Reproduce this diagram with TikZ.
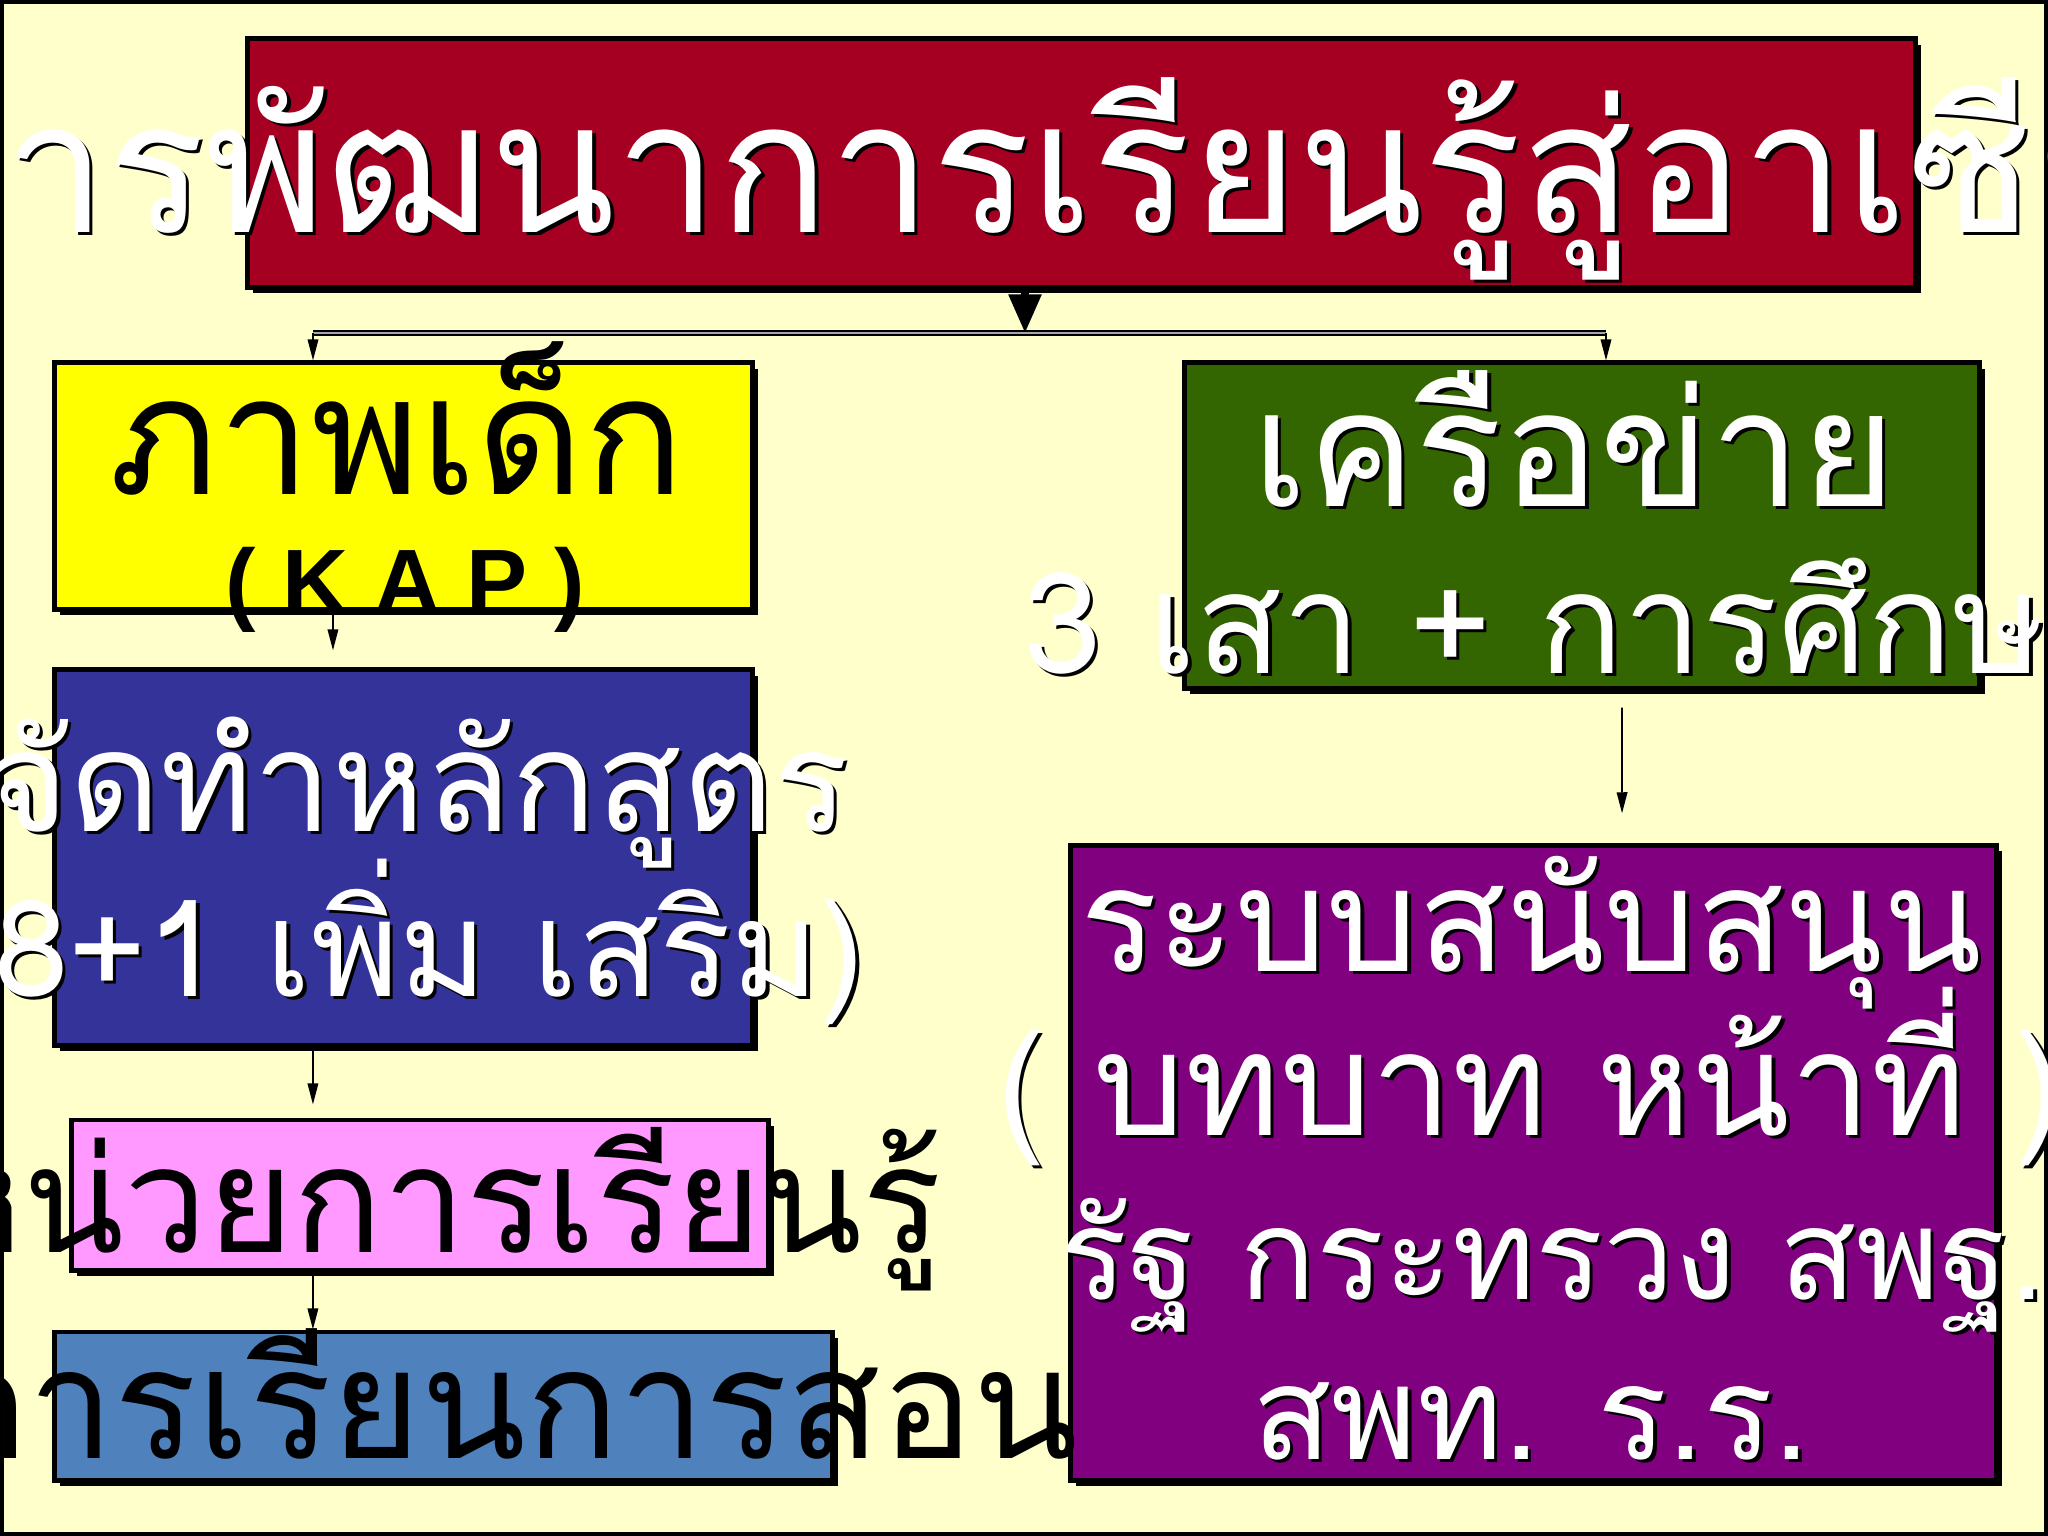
\documentclass[tikz,border=0pt]{standalone}
\usepackage{fontspec}
\newfontfamily\thai[Script=Thai]{Loma}
\newfontfamily\arial{Liberation Sans}
\usetikzlibrary{arrows.meta,shadows}
\definecolor{slide-bg}{HTML}{FFFFCC}
\definecolor{title-red}{HTML}{A50021}
\definecolor{kap-yellow}{HTML}{FFFF00}
\definecolor{course-blue}{HTML}{333399}
\definecolor{unit-pink}{HTML}{FF99FF}
\definecolor{teach-blue}{HTML}{4F81BD}
\definecolor{net-green}{HTML}{336600}
\definecolor{support-purple}{HTML}{800080}
\tikzset{
    flow-box/.style = {draw=black, line width=1.4pt, rectangle, inner sep=0pt,
        drop shadow={shadow xshift=1.6pt, shadow yshift=-1.6pt, opacity=1, fill=black}},
    box-text/.style = {font=\thai\fontsize{#1}{#1}\selectfont, text=white, inner sep=0pt, anchor=base},
    box-text/.default = 40,
    dark-text/.style = {box-text=#1, text=black},
    dark-text/.default = 40,
    thin-arrow/.style = {line width=0.5pt, -{Triangle[length=6pt, width=3pt]}},
    big-arrow/.style = {line width=2pt, -{Triangle[length=11pt, width=9pt]}},
    rail/.style = {line width=0.4pt, double=gray!70, double distance=0.7pt},
}
% white text with a black copy behind it
\newcommand{\shadowtext}[4][box-text]{%
    \node[#1, text=black] at ([xshift=1pt, yshift=-1pt]#3) {#4};
    \node[#1] (#2) at (#3) {#4};}

\begin{document}
\begin{tikzpicture}[x=0.01cm, y=-0.01cm]
\clip (0,0) rectangle (2048,1536);
\fill[slide-bg] (0,0) rectangle (2048,1536);
\draw[line width=1.4pt] (2,2) rectangle (2046,1534);

% boxes
\node[flow-box, fill=title-red, minimum width=16.67cm, minimum height=2.48cm] (title) at (1081.5,163) {};
\node[flow-box, fill=kap-yellow, minimum width=6.97cm, minimum height=2.46cm] (kap) at (403.5,486) {};
\node[flow-box, fill=course-blue, minimum width=6.97cm, minimum height=3.75cm] (course) at (403.5,857.5) {};
\node[flow-box, fill=unit-pink, minimum width=6.96cm, minimum height=1.50cm] (unit) at (420,1195) {};
\node[flow-box, fill=teach-blue, minimum width=7.77cm, minimum height=1.48cm] (teach) at (443.5,1406) {};
\node[flow-box, fill=net-green, minimum width=7.94cm, minimum height=3.25cm] (net) at (1582,525.5) {};
\node[flow-box, fill=support-purple, minimum width=9.25cm, minimum height=6.34cm] (support) at (1533.5,1163) {};

% connectors
\coordinate (split) at (1025,333);
\coordinate (split-l) at (313,333);
\coordinate (split-r) at (1606,333);
\draw[big-arrow] (title.south -| split) -- (split);
\draw[rail] (split-l) -- (split-r);
\draw[thin-arrow] (split-l) -- (split-l |- kap.north);
\draw[thin-arrow] (split-r) -- (split-r |- net.north);
\draw[thin-arrow] ([xshift=-0.705cm]kap.south) -- ([xshift=-0.705cm, yshift=0.17cm]course.north);
\draw[thin-arrow] ([xshift=-0.905cm]course.south) -- ([xshift=-1.07cm, yshift=0.13cm]unit.north);
\draw[thin-arrow] ([xshift=-1.07cm]unit.south) -- ([xshift=-1.305cm]teach.north);
\draw[thin-arrow] ([xshift=0.40cm, yshift=-0.17cm]net.south) -- ([xshift=0.885cm, yshift=0.30cm]support.north);

% texts
\shadowtext[box-text=52]{title-label}{1079,232}{การพัฒนาการเรียนรู้สู่อาเซียน}
\node[dark-text=47] (kap-label) at (397,494) {ภาพเด็ก};
\node[anchor=base, inner sep=0pt, font=\arial\bfseries\fontsize{26}{30}\selectfont] (kap-code) at (405,613)
    {(\hspace{7.5pt}K\hspace{7.5pt}A\hspace{7.5pt}P\hspace{7.5pt})};
\shadowtext{course-label}{418,831}{จัดทำหลักสูตร}
\shadowtext[box-text=38]{course-note}{407,996}{(8+1 เพิ่ม เสริม)}
\node[dark-text=42] (unit-label) at (434,1252) {หน่วยการเรียนรู้};
\node[dark-text=43.6] (teach-label) at (507,1458) {การเรียนการสอน};
\shadowtext[box-text=46]{net-label}{1574,506}{เครือข่าย}
\shadowtext{net-note}{1574,673}{3 เสา + การศึกษา}
\shadowtext[box-text=41]{support-label}{1531,971}{ระบบสนับสนุน}
\shadowtext[box-text=41]{support-role}{1530,1135}{( บทบาท หน้าที่ )}
\shadowtext[box-text=36]{support-state}{1552,1299}{รัฐ กระทรวง สพฐ.}
\shadowtext[box-text=37]{support-local}{1531,1459}{สพท. ร.ร.}
\end{tikzpicture}
\end{document}
